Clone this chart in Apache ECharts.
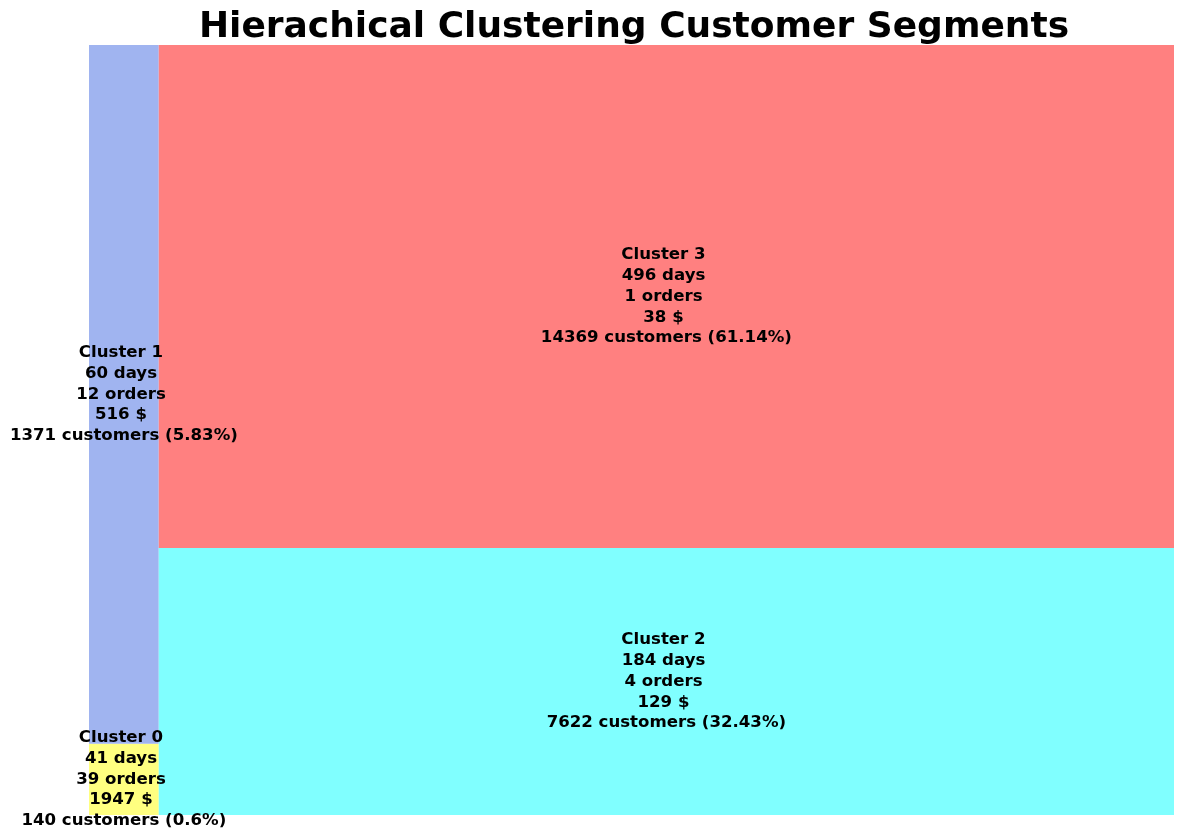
<!DOCTYPE html>
<html>
<head>
<meta charset="utf-8">
<script src="https://cdn.jsdelivr.net/npm/echarts@6/dist/echarts.min.js"></script>
<style>html,body{margin:0;padding:0;background:#fff}#c{width:1184px;height:840px}</style>
</head>
<body>
<div id="c"></div>
<script>
// Data
const clusters = ["Cluster 0", "Cluster 1", "Cluster 2", "Cluster 3"];
const customers = [140, 1371, 7622, 14369];
const days = [41, 60, 184, 496];
const orders = [39, 12, 4, 1];
const spend = [1947, 516, 129, 38];
const colors = ["#ffff80", "#a0b4f0", "#80ffff", "#ff8080"];

// squarify layout (normalized to 100 x 100, y up, like python squarify)
function squarify(values, x, y, dx, dy) {
  const total = values.reduce((a, b) => a + b, 0);
  const sizes = values.map(v => v * dx * dy / total);
  const out = [];
  function layoutRects(sz, x, y, dx, dy) {
    const covered = sz.reduce((a, b) => a + b, 0);
    const rects = [];
    if (dx >= dy) {
      const w = covered / dy; let cy = y;
      sz.forEach(s => { rects.push({x: x, y: cy, dx: w, dy: s / w}); cy += s / w; });
    } else {
      const h = covered / dx; let cx = x;
      sz.forEach(s => { rects.push({x: cx, y: y, dx: s / h, dy: h}); cx += s / h; });
    }
    return rects;
  }
  function leftover(sz, x, y, dx, dy) {
    const covered = sz.reduce((a, b) => a + b, 0);
    if (dx >= dy) { const w = covered / dy; return [x + w, y, dx - w, dy]; }
    const h = covered / dx; return [x, y + h, dx, dy - h];
  }
  function worst(sz, x, y, dx, dy) {
    return Math.max(...layoutRects(sz, x, y, dx, dy).map(r => Math.max(r.dx / r.dy, r.dy / r.dx)));
  }
  function rec(sz, x, y, dx, dy) {
    if (sz.length === 0) return;
    if (sz.length === 1) { out.push(...layoutRects(sz, x, y, dx, dy)); return; }
    let i = 1;
    while (i < sz.length && worst(sz.slice(0, i), x, y, dx, dy) >= worst(sz.slice(0, i + 1), x, y, dx, dy)) i++;
    const cur = sz.slice(0, i), rem = sz.slice(i);
    out.push(...layoutRects(cur, x, y, dx, dy));
    const [lx, ly, ldx, ldy] = leftover(cur, x, y, dx, dy);
    rec(rem, lx, ly, ldx, ldy);
  }
  rec(sizes, x, y, dx, dy);
  return out;
}

const total = customers.reduce((a, b) => a + b, 0);
const rects = squarify(customers, 0, 0, 100, 100);
const labels = clusters.map((c, i) => {
  const pct = Math.round(customers[i] / total * 10000) / 100;
  return c + " \n" + days[i] + " days \n" + orders[i] + " orders \n" + spend[i] + " $ \n" + customers[i] + " customers (" + pct + "%)";
});
const data = rects.map((r, i) => [r.x, r.y, r.dx, r.dy, i]);

const chart = echarts.init(document.getElementById('c'));
const font = '"DejaVu Sans", sans-serif';
chart.setOption({
  animation: false,
  title: {
    text: "Hierachical Clustering Customer Segments",
    left: 629, top: 5, textAlign: 'center',
    textStyle: {fontFamily: font, fontWeight: 'bold', fontSize: 36, color: '#000'}
  },
  grid: {left: 89, right: 10, top: 45, bottom: 25},
  xAxis: {type: 'value', min: 0, max: 100, show: false},
  yAxis: {type: 'value', min: 0, max: 100, show: false},
  series: [{
    type: 'custom',
    data: data,
    renderItem: function (params, api) {
      const x = api.value(0), y = api.value(1), dx = api.value(2), dy = api.value(3), i = api.value(4);
      const p0 = api.coord([x, y + dy]);
      const p1 = api.coord([x + dx, y]);
      return {
        type: 'group',
        children: [
          {type: 'rect', z2: 1, shape: {x: p0[0], y: p0[1], width: p1[0] - p0[0], height: p1[1] - p0[1]},
           style: {fill: colors[i]}},
          {type: 'text', z2: 100, x: (p0[0] + p1[0]) / 2, y: (p0[1] + p1[1]) / 2,
           style: {text: labels[i], fill: '#000', font: 'bold 16.6px ' + font,
                   align: 'center', verticalAlign: 'middle', lineHeight: 20.8}}
        ]
      };
    }
  }]
});
</script>
</body>
</html>
